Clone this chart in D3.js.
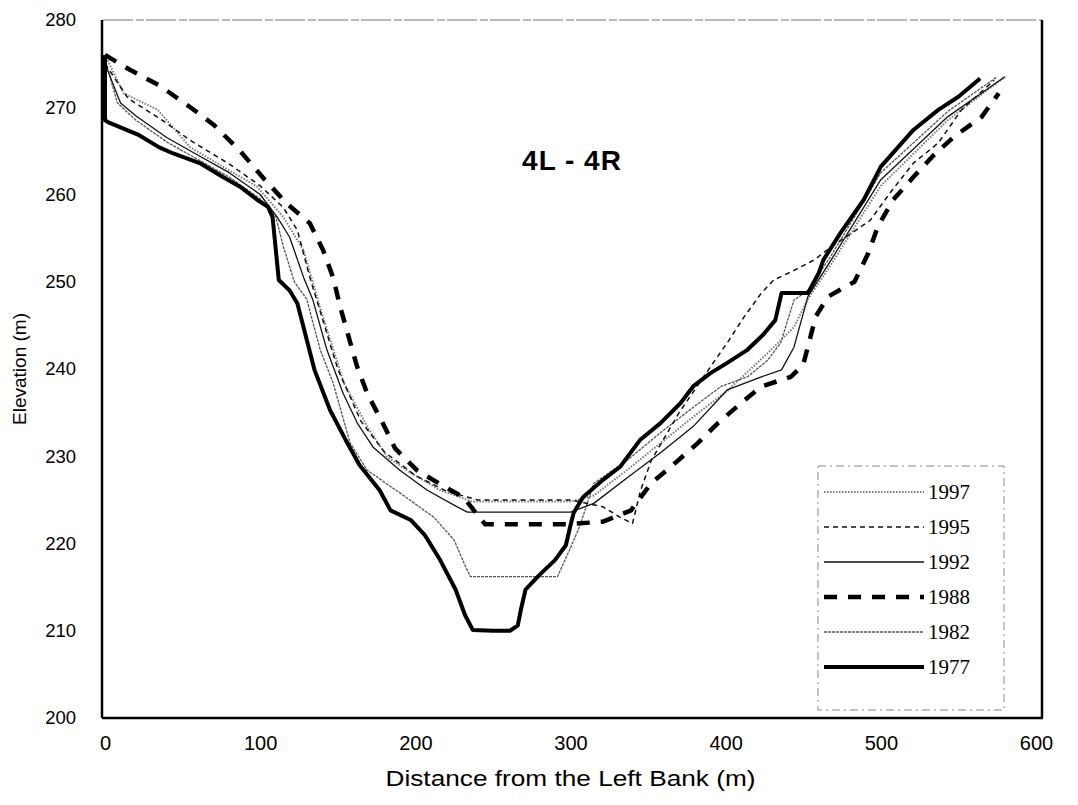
<!DOCTYPE html>
<html>
<head>
<meta charset="utf-8">
<script src="https://cdn.jsdelivr.net/npm/d3@7"></script>
<style>
body { margin: 0; background: #fff; }
svg { display: block; }
</style>
</head>
<body>
<svg id="chart"></svg>
<script>
var screen = {width: 1078, height: 805};
var margins = {top: 20, right: 42, bottom: 87, left: 105};

// tick labels
var xTicks = [0, 100, 200, 300, 400, 500, 600];
var yTicks = [200, 210, 220, 230, 240, 250, 260, 270, 280];

// legend order
var years = ["1997", "1995", "1992", "1988", "1982", "1977"];

// survey profiles: distance from left bank (m) / elevation (m)
var x1997 = [0,12,34,55,76,98,115,128,139,154,169,182,197,216,229,237,300,315,337,358,379,401,427,444,453,468,500,543,580];
var y1997 = [276,271.6,269.7,265.4,263.2,260.9,257.4,253.6,246.8,238.4,233.4,229.9,228.1,226.1,225.3,224.8,224.8,225.5,228.5,231.5,234.5,237.5,241.8,244.8,248,252,261,268.5,273.5];

var x1995 = [0,15,37,55,80,100,115,124,132,137,150,165,180,200,220,240,300,321,332,340,345,352,370,390,401,412,423,431,444,457,468,493,506,521,537,552,573];
var y1995 = [275,271,268.5,266.2,263.5,261,258.5,255.9,250.5,247.6,240,234,230.5,227.8,226,225,225,224.2,223,222.3,226,229.5,235,240.2,243,246,248.7,250.2,251.3,252.5,254,257,260.2,263.6,265.9,269.7,273.1];

var x1992 = [0,10,20,40,60,80,100,111,119,128,134,143,153.5,162.6,173,190,207.7,227,233.5,300,315,337,358,379,401,423,436,444,453,468,500,543,580];
var y1992 = [275,270.5,269,266.5,264.5,262.5,260,257.4,255.1,250.5,247.9,242.2,237.2,233.8,231,228.4,226.1,224.2,223.6,223.6,224.6,227.6,230.4,233.4,237.6,239.1,239.9,242.5,248.3,252.5,261.7,268.9,273.5];

var x1988 = [0,16,35,55,70,87,103,117,132,140.6,147,151.6,157,162.6,169,178.7,187,201,217,231,245,297,321,339,352,366,382,395,410,423,442,450,458,466,483,492,498,508,521,534,547,565,576];
var y1988 = [276,274.3,272.5,270,268,265,261.7,259,256.7,253.6,250.5,247.1,243.7,240.2,237.2,233.9,230.9,228.4,226.7,225.3,222.2,222.2,222.5,223.8,226.9,229,231.5,233.8,236.1,238,239.1,240.5,246,248.3,250,253.3,256.3,259.4,262,264.5,266.6,268.9,271.6];

var x1982 = [0,8,20,40,60,80,100,110,115,122,130,138.7,147,158,169,190,212,225,232,235.5,291.6,300,306,315,337,358,379,397,414,427,435.5,444,453,468,500,543,575];
var y1982 = [275.5,270.5,268.5,266,264,262,259.5,257.5,254,250,248,242.2,238.4,231.5,228.4,225.8,223,220.4,217.5,216.2,216.2,219.5,222,226.9,229.6,232.7,235.6,238,239.1,241,243,247.9,249,253,262.5,269.5,273.5];

var x1977 = [0,0,3,10,22,35,44,61,76,87,98,105,108,112,119,124,135,145,155,164,177,184,197,206,216,226,232,237,250,261,266,268,271,280,290,297,300,302,308,321,332,345,358,371,379,390,401,414,424,432,436,453,460,463,474,489,500,511,521,537,550,564];
var y1977 = [276,268.5,268.2,267.7,266.8,265.4,264.7,263.6,262,260.9,259.4,258.6,257.4,250.2,249,247.5,239.9,235.3,231.9,229,226.1,223.8,222.7,221,218.1,214.7,211.8,210.1,210,210,210.6,212.4,214.7,216.4,218.1,219.8,222.1,223.5,225.3,227.3,228.8,231.9,233.8,236.1,238,239.5,240.7,242.2,243.9,245.6,248.7,248.7,251,252.5,255.6,259.4,263.2,265.4,267.4,269.7,271.2,273.3];

var styles = {
    "1997": {stroke: "#7a7a7a", width: 2, dash: "1.5,1.5"},
    "1995": {stroke: "#111", width: 1.5, dash: "5,4"},
    "1992": {stroke: "#111", width: 1.3, dash: null},
    "1988": {stroke: "#000", width: 4.5, dash: "13,11"},
    "1982": {stroke: "#555", width: 1.3, dash: "3,1"},
    "1977": {stroke: "#000", width: 4, dash: null}
};

var series = [
    {year: "1982", xs: x1982, ys: y1982},
    {year: "1997", xs: x1997, ys: y1997},
    {year: "1995", xs: x1995, ys: y1995},
    {year: "1992", xs: x1992, ys: y1992},
    {year: "1988", xs: x1988, ys: y1988},
    {year: "1977", xs: x1977, ys: y1977}
];

var setup = function()
{
    var svg = d3.select("#chart")
        .attr("width", screen.width)
        .attr("height", screen.height);

    var width = screen.width - margins.left - margins.right;
    var height = screen.height - margins.top - margins.bottom;

    var xScale = d3.scaleLinear()
        .domain([0, 600])
        .range([margins.left, margins.left + width]);

    var yScale = d3.scaleLinear()
        .domain([200, 280])
        .range([margins.top + height, margins.top]);

    // frame
    svg.append("line")
        .attr("x1", xScale(0) - 2).attr("x2", xScale(600) + 6)
        .attr("y1", yScale(280)).attr("y2", yScale(280))
        .attr("stroke", "#777").attr("stroke-width", 1.2)
        .attr("stroke-dasharray", "30,3,8,2");
    svg.append("line")
        .attr("x1", xScale(600) + 6).attr("x2", xScale(600) + 6)
        .attr("y1", yScale(280)).attr("y2", yScale(200))
        .attr("stroke", "#000").attr("stroke-width", 2.5);

    var xAxis = d3.axisBottom(xScale).tickValues(xTicks).tickSize(0).tickPadding(18);
    var yAxis = d3.axisLeft(yScale).tickValues(yTicks).tickSize(0).tickPadding(26);

    svg.append("g")
        .attr("id", "xAxis")
        .attr("transform", "translate(0," + yScale(200) + ")")
        .call(xAxis)
        .call(function(g) {
            g.select(".domain").attr("stroke-width", 2.5)
                .attr("d", "M" + (xScale(0) - 3) + ",0H" + (xScale(600) + 7));
            g.selectAll("text")
                .attr("font-family", "'Liberation Sans', Arial, sans-serif")
                .attr("font-size", 20)
                .attr("fill", "#000");
        });

    svg.append("g")
        .attr("id", "yAxis")
        .attr("transform", "translate(" + (xScale(0) - 3) + ",0)")
        .call(yAxis)
        .call(function(g) {
            g.select(".domain").attr("stroke-width", 2.5)
                .attr("d", "M0," + yScale(280) + "V" + yScale(200));
            g.selectAll("text")
                .attr("font-family", "'Liberation Sans', Arial, sans-serif")
                .attr("font-size", 18.5)
                .attr("fill", "#000");
        });

    // profile lines
    var line = d3.line()
        .x(function(d) { return xScale(d[0]); })
        .y(function(d) { return yScale(d[1]); });

    series.forEach(function(s) {
        var pts = s.xs.map(function(x, i) { return [x, s.ys[i]]; });
        var st = styles[s.year];
        svg.append("path")
            .datum(pts)
            .attr("fill", "none")
            .attr("stroke", st.stroke)
            .attr("stroke-width", st.width)
            .attr("stroke-dasharray", st.dash)
            .attr("stroke-linejoin", "round")
            .attr("d", line);
    });

    // title inside plot
    svg.append("text")
        .attr("x", 572)
        .attr("y", 170)
        .attr("text-anchor", "middle")
        .attr("font-family", "'Liberation Sans', Arial, sans-serif")
        .attr("font-size", 28)
        .attr("font-weight", "bold")
        .attr("letter-spacing", 1)
        .text("4L - 4R");

    // axis titles
    svg.append("text")
        .attr("x", (xScale(0) + xScale(600)) / 2)
        .attr("y", 786)
        .attr("text-anchor", "middle")
        .attr("font-family", "'Liberation Sans', Arial, sans-serif")
        .attr("font-size", 22)
        .attr("textLength", 370)
        .attr("lengthAdjust", "spacingAndGlyphs")
        .text("Distance from the Left Bank  (m)");

    svg.append("text")
        .attr("transform", "translate(26," + yScale(240) + ") rotate(-90)")
        .attr("text-anchor", "middle")
        .attr("font-family", "'Liberation Sans', Arial, sans-serif")
        .attr("font-size", 19)
        .text("Elevation (m)");

    // legend
    var lg = svg.append("g").attr("transform", "translate(818,466)");
    lg.append("rect")
        .attr("x", 0).attr("y", 0)
        .attr("width", 186).attr("height", 244)
        .attr("fill", "#fff")
        .attr("stroke", "#888").attr("stroke-width", 1)
        .attr("stroke-dasharray", "8,4,2,4");

    years.forEach(function(y, i) {
        var st = styles[y];
        var yy = 26 + i * 35;
        lg.append("line")
            .attr("x1", 6).attr("x2", 106)
            .attr("y1", yy).attr("y2", yy)
            .attr("stroke", st.stroke)
            .attr("stroke-width", st.width)
            .attr("stroke-dasharray", st.dash);
        lg.append("text")
            .attr("x", 110).attr("y", yy + 7)
            .attr("font-family", "'Liberation Serif', 'Times New Roman', serif")
            .attr("font-size", 21)
            .text(y);
    });
}

setup();
</script>
</body>
</html>
